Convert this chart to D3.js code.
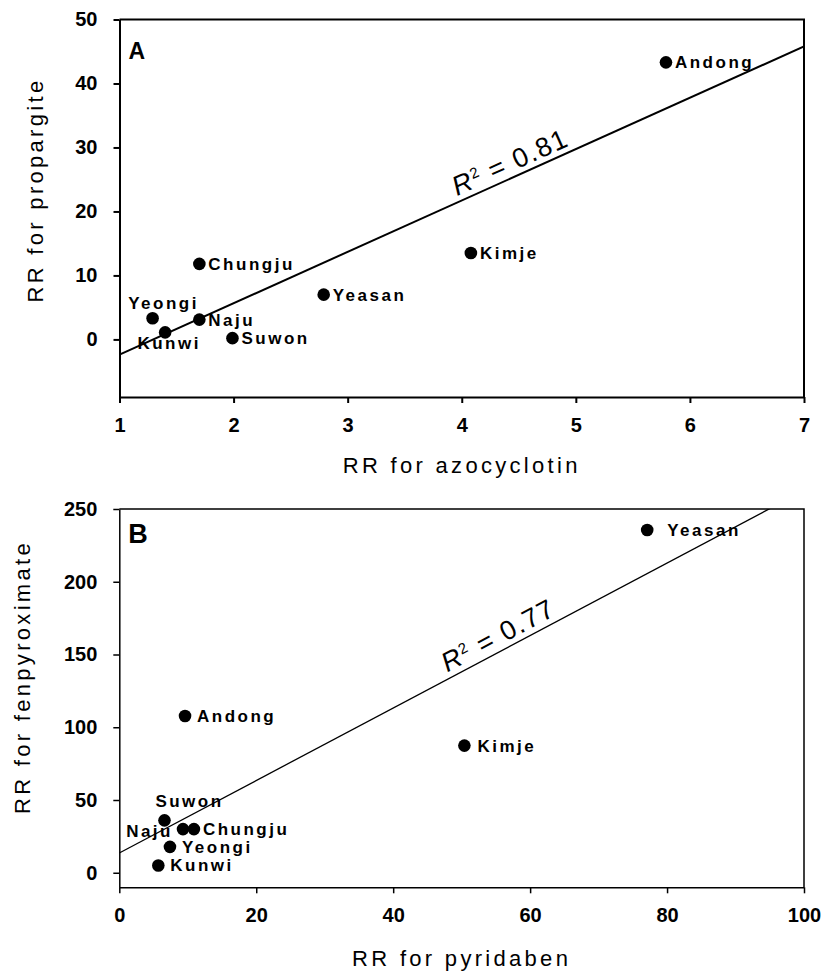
<!DOCTYPE html>
<html>
<head>
<meta charset="utf-8">
<script src="https://cdn.jsdelivr.net/npm/d3@7"></script>
<style>
  body { margin: 0; background: #fff; }
  svg { display: block; font-family: "Liberation Sans", Arial, sans-serif; }
  .tick text { font-weight: bold; font-size: 20px; fill: #000; }
  .site { font-weight: bold; font-size: 17px; letter-spacing: 2.5px; }
  .title { font-size: 22px; letter-spacing: 3.3px; }
</style>
</head>
<body>
<script>
// sites, same order in every array
var siteNames = ["Andong", "Kimje", "Chungju", "Yeasan", "Yeongi", "Kunwi", "Naju", "Suwon"];

// panel A
var azocyclotinRR = [5.79, 4.08, 1.70, 2.79, 1.29, 1.40, 1.70, 1.99];
var propargiteRR = [43.3, 13.5, 11.8, 7.0, 3.3, 1.1, 3.1, 0.2];
var xTicksA = [1, 2, 3, 4, 5, 6, 7];
var yTicksA = [0, 10, 20, 30, 40, 50];
var r2A = "0.81";

// panel B
var pyridabenRR = [9.6, 50.4, 10.9, 77.1, 7.4, 5.7, 9.3, 6.6];
var fenpyroximateRR = [107.7, 87.4, 30, 235.6, 17.8, 5, 30, 36];
var xTicksB = [0, 20, 40, 60, 80, 100];
var yTicksB = [0, 50, 100, 150, 200, 250];
var r2B = "0.77";

var width = 828;
var height = 975;

var svg = d3.select("body")
            .append("svg")
            .attr("width", width)
            .attr("height", height);

// least squares fit
function fitLine(xs, ys) {
  var mx = d3.mean(xs), my = d3.mean(ys);
  var sxy = 0, sxx = 0;
  for (var i = 0; i < xs.length; i++) {
    sxy += (xs[i] - mx) * (ys[i] - my);
    sxx += (xs[i] - mx) * (xs[i] - mx);
  }
  var slope = sxy / sxx;
  var intercept = my - slope * mx;
  return function(x) { return intercept + slope * x; };
}

function drawPanel(p) {
  var xScale = d3.scaleLinear().domain(p.xDomain).range([p.left, p.right]);
  var yScale = d3.scaleLinear().domain(p.yDomain).range([p.bottom, p.top]);
  var g = svg.append("g");

  // frame (top + right)
  g.append("path")
   .attr("d", "M" + p.left + "," + p.top + "H" + p.right + "V" + p.bottom)
   .attr("fill", "none")
   .attr("stroke", "#000")
   .attr("stroke-width", p.stroke);

  var xAxis = d3.axisBottom(xScale).tickValues(p.xTicks).tickFormat(d3.format("d"))
                .tickSize(6).tickSizeOuter(0).tickPadding(15);
  var yAxis = d3.axisLeft(yScale).tickValues(p.yTicks).tickFormat(d3.format("d"))
                .tickSize(6).tickSizeOuter(0).tickPadding(16);

  var gx = g.append("g")
            .attr("transform", "translate(0," + p.bottom + ")")
            .call(xAxis);
  var gy = g.append("g")
            .attr("transform", "translate(" + p.left + ",0)")
            .call(yAxis);
  [gx, gy].forEach(function(a) {
    a.select(".domain").attr("stroke-width", p.stroke);
    a.selectAll(".tick line").attr("stroke-width", p.stroke);
    a.selectAll(".tick text").attr("font-family", null).attr("font-size", null);
  });

  // regression line, clipped to the plot box
  var clipId = "clip" + p.letter;
  svg.append("clipPath").attr("id", clipId)
     .append("rect")
     .attr("x", p.left).attr("y", p.top)
     .attr("width", p.right - p.left).attr("height", p.bottom - p.top);

  var fit = fitLine(p.xs, p.ys);
  var x0 = p.xDomain[0], x1 = p.xDomain[1];
  g.append("line")
   .attr("clip-path", "url(#" + clipId + ")")
   .attr("x1", xScale(x0)).attr("y1", yScale(fit(x0)))
   .attr("x2", xScale(x1)).attr("y2", yScale(fit(x1)))
   .attr("stroke", "#000")
   .attr("stroke-width", p.lineWidth);

  // R^2 label along the line
  var angle = Math.atan2(yScale(fit(x1)) - yScale(fit(x0)), xScale(x1) - xScale(x0)) * 180 / Math.PI;
  var r2 = g.append("text")
            .attr("transform", "translate(" + xScale(p.r2At) + "," + yScale(fit(p.r2At)) + ") rotate(" + angle + ")")
            .attr("y", -6)
            .attr("font-size", 27)
            .attr("letter-spacing", 1.5);
  r2.append("tspan").attr("font-style", "italic").text("R");
  r2.append("tspan").attr("font-size", 15).attr("dy", -9).text("2");
  r2.append("tspan").attr("dy", 9).text(" = " + p.r2);

  // points
  var pts = p.xs.map(function(d, i) { return {name: siteNames[i], x: d, y: p.ys[i]}; });
  g.selectAll("circle")
   .data(pts)
   .enter()
   .append("circle")
   .attr("cx", function(d) { return xScale(d.x); })
   .attr("cy", function(d) { return yScale(d.y); })
   .attr("r", 6.3)
   .attr("fill", "#000");

  g.selectAll("text.site")
   .data(pts)
   .enter()
   .append("text")
   .attr("class", "site")
   .each(function(d) {
     var lay = p.labelLayout[d.name] || {anchor: "start", dx: p.labelDx, dy: 0};
     d3.select(this)
       .attr("text-anchor", lay.anchor)
       .attr("x", xScale(d.x) + lay.dx)
       .attr("y", yScale(d.y) + lay.dy)
       .attr("dy", "0.35em");
   })
   .text(function(d) { return d.name; });

  // panel letter
  g.append("text")
   .attr("x", p.left + 9)
   .attr("y", p.top + p.letterY)
   .attr("font-weight", "bold")
   .attr("font-size", p.letterSize)
   .text(p.letter);

  // axis titles
  g.append("text")
   .attr("class", "title")
   .attr("text-anchor", "middle")
   .attr("x", (p.left + p.right) / 2)
   .attr("y", p.xTitleY)
   .text(p.xTitle);

  g.append("text")
   .attr("class", "title")
   .attr("text-anchor", "middle")
   .attr("transform", "translate(" + p.yTitleX + "," + p.yTitleMid + ") rotate(-90)")
   .text(p.yTitle);
}

drawPanel({
  letter: "A", letterSize: 23, letterY: 39,
  xs: azocyclotinRR, ys: propargiteRR,
  xDomain: [1, 7], yDomain: [-9, 50],
  xTicks: xTicksA, yTicks: yTicksA,
  left: 119.5, right: 804, top: 19.5, bottom: 397,
  stroke: 2, lineWidth: 2,
  r2: r2A, r2At: 3.98,
  xTitle: "RR for azocyclotin", xTitleY: 473,
  yTitle: "RR for propargite", yTitleX: 43, yTitleMid: 190,
  labelDx: 9,
  labelLayout: {
    Yeongi: {anchor: "middle", dx: 11, dy: -15},
    Kunwi: {anchor: "middle", dx: 4, dy: 11}
  }
});

drawPanel({
  letter: "B", letterSize: 27, letterY: 34,
  xs: pyridabenRR, ys: fenpyroximateRR,
  xDomain: [0, 100], yDomain: [-10, 250],
  xTicks: xTicksB, yTicks: yTicksB,
  left: 119.3, right: 804, top: 509, bottom: 887.3,
  stroke: 1.5, lineWidth: 1.3,
  r2: r2B, r2At: 48.3,
  xTitle: "RR for pyridaben", xTitleY: 966,
  yTitle: "RR for fenpyroximate", yTitleX: 30, yTitleMid: 677,
  labelDx: 12,
  labelLayout: {
    Suwon: {anchor: "middle", dx: 25, dy: -19},
    Naju: {anchor: "end", dx: -10, dy: 2},
    Chungju: {anchor: "start", dx: 9, dy: 0},
    Yeasan: {anchor: "start", dx: 20, dy: 0},
    Kimje: {anchor: "start", dx: 13, dy: 0}
  }
});
</script>
</body>
</html>
